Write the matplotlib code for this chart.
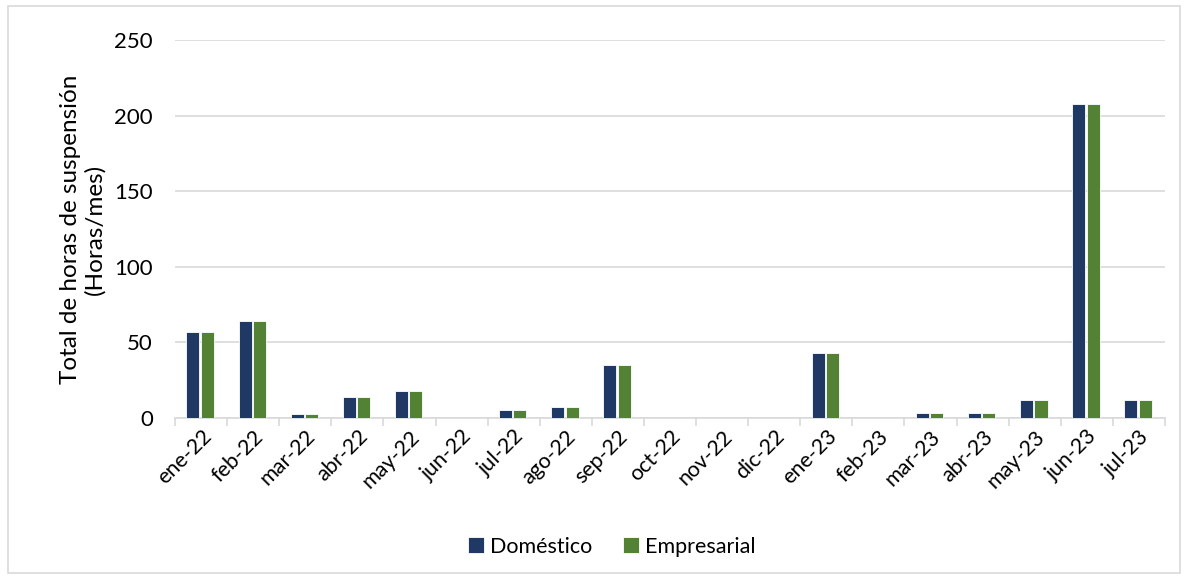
import matplotlib
matplotlib.use("Agg")
import matplotlib.pyplot as plt
import numpy as np
from matplotlib.patches import Rectangle

plt.rcParams['font.family'] = ['Lato', 'DejaVu Sans']

meses = ["ene-22", "feb-22", "mar-22", "abr-22", "may-22", "jun-22", "jul-22",
         "ago-22", "sep-22", "oct-22", "nov-22", "dic-22", "ene-23", "feb-23",
         "mar-23", "abr-23", "may-23", "jun-23", "jul-23"]
domestico = [57, 64, 2.5, 14, 18, 0, 5, 7, 35, 0, 0, 0, 43, 0, 3.5, 3.5, 12, 208, 12]
empresarial = [57, 64, 2.5, 14, 18, 0, 5, 7, 35, 0, 0, 0, 43, 0, 3.5, 3.5, 12, 208, 12]

azul = "#203864"
verde = "#548235"

fig = plt.figure(figsize=(11.88, 5.76), dpi=100)
ax = fig.add_axes([175 / 1188, 1 - 418 / 576, 990 / 1188, 378 / 576])

x = np.arange(len(meses))
w = 0.25
ax.bar(x - w / 2 - 0.03, domestico, w, color=azul, edgecolor="white", linewidth=0.6, label="Doméstico", zorder=3)
ax.bar(x + w / 2 - 0.005, empresarial, w, color=verde, edgecolor="white", linewidth=0.6, label="Empresarial", zorder=3)

ax.set_xlim(-0.5, len(meses) - 0.5)
ax.set_ylim(0, 250)
ax.set_yticks([0, 50, 100, 150, 200, 250])
ax.yaxis.grid(True, color="#d9d9d9", linewidth=1.2, zorder=0)
ax.tick_params(axis="y", length=0, labelsize=16, pad=16)

ax.set_xticks(x)
ax.set_xticklabels(meses, rotation=45, ha="right", rotation_mode="anchor", fontsize=15.5)
ax.tick_params(axis="x", length=0, pad=6)
ax.set_xticks(np.arange(-0.5, len(meses)), minor=True)
ax.tick_params(axis="x", which="minor", length=6, color="#d9d9d9", width=1.2)

for s in ["top", "right", "left"]:
    ax.spines[s].set_visible(False)
ax.spines["bottom"].set_color("#d9d9d9")
ax.spines["bottom"].set_linewidth(1.2)

ax.set_ylabel("Total de horas de suspensión\n(Horas/mes)", fontsize=17.5, labelpad=6)

fig.legend(loc="lower center", bbox_to_anchor=(0.515, 0.0), ncol=2, frameon=False,
           fontsize=15.5, handlelength=0.75, handleheight=0.75, columnspacing=1.4, handletextpad=0.3)

fig.patches.append(Rectangle((0.007, 0.005), 0.986, 0.985, transform=fig.transFigure,
                             fill=False, edgecolor="#d9d9d9", linewidth=1.2))

fig.savefig("out.png", dpi=100)
